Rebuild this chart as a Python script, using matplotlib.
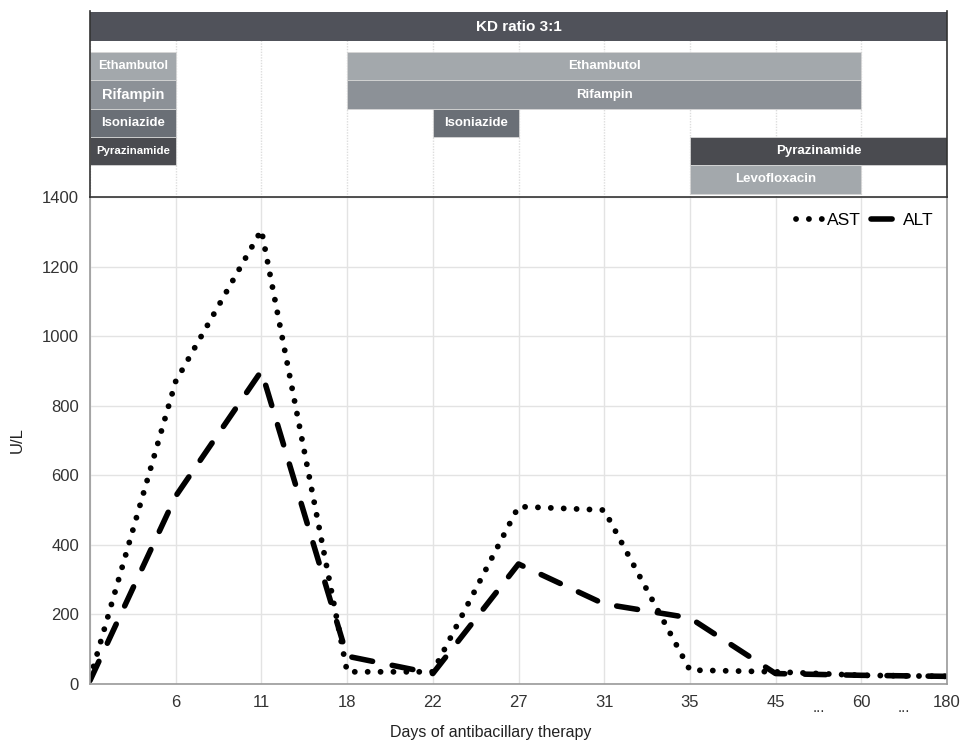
import matplotlib
matplotlib.use('Agg')
import matplotlib.pyplot as plt

plt.rcParams['font.family'] = ['Liberation Sans', 'DejaVu Sans']

# x positions are categorical (days of therapy)
day_labels = ['', '6', '11', '18', '22', '27', '31', '35', '45', '60', '180']
ast = [15, 870, 1305, 35, 35, 510, 500, 40, 35, 25, 22]
alt = [10, 540, 900, 80, 30, 345, 230, 190, 30, 25, 22]

# drug regimen bars: (name, row, start index, end index)
drug_names = ['Ethambutol', 'Rifampin', 'Isoniazide', 'Pyrazinamide', 'Levofloxacin']
drug_colors = ['#a3a8ac', '#8c9197', '#6a6f76', '#4a4b50', '#a3a8ac']
drug_spans = [
    [(0, 1), (3, 9)],
    [(0, 1), (3, 9)],
    [(0, 1), (4, 5)],
    [(0, 1), (7, 10)],
    [(7, 9)],
]
first_bar_sizes = [9.2, 10.5, 9.5, 8.2, 9]

fig = plt.figure(figsize=(9.63, 7.48), dpi=100)
ax = fig.add_axes([90/963, 1 - 684/748, 857/963, 487/748])
ax_top = fig.add_axes([90/963, 1 - 197/748, 857/963, 186/748])

x = list(range(len(day_labels)))

# main plot
ax.plot(x, ast, color='black', lw=4.2, linestyle=(0, (0.01, 2.2)),
        dash_capstyle='round', label='AST')
ax.plot(x, alt, color='black', lw=4.0, linestyle=(0, (3.8, 3.6)),
        dash_capstyle='round', label='ALT')

ax.set_xlim(0, 10)
ax.set_ylim(0, 1400)
ax.set_yticks(range(0, 1401, 200))
ax.set_xticks(x)
ax.set_xticklabels(day_labels)
ax.tick_params(axis='both', length=0, labelsize=12, colors='#333333', pad=8)
ax.grid(True, color='#e3e3e3', lw=1)
ax.set_axisbelow(True)
for s in ['left', 'bottom', 'right']:
    ax.spines[s].set_color('#999999')
    ax.spines[s].set_linewidth(1.2)
ax.spines['top'].set_visible(False)

for xp in [8.5, 9.5]:
    ax.text(xp, -0.035, '...', transform=ax.get_xaxis_transform(),
            ha='center', va='top', fontsize=11, color='#333333')

ax.set_ylabel('U/L', fontsize=12, color='#222222', labelpad=12)
fig.text(491/963, 1 - 733/748, 'Days of antibacillary therapy', ha='center',
         va='center', fontsize=11.5, color='#222222')

ax.legend(loc='upper right', frameon=False, fontsize=12.5, handlelength=1.7,
          handletextpad=0.1, ncol=2, columnspacing=0.6, borderaxespad=0.4,
          bbox_to_anchor=(1.0, 0.995))

# top regimen panel
ax_top.set_xlim(0, 10)
ax_top.set_ylim(6.57, 0)
ax_top.set_xticks(x)
ax_top.set_xticklabels([])
ax_top.set_yticks([])
ax_top.tick_params(length=0)
ax_top.grid(True, axis='x', color='#dddddd', lw=1, linestyle=(0, (1, 1)))
ax_top.set_axisbelow(True)
for s in ['left', 'right', 'bottom']:
    ax_top.spines[s].set_color('#333333')
    ax_top.spines[s].set_linewidth(1.2)
ax_top.spines['top'].set_visible(False)

ax_top.barh(0.55, 10, left=0, height=1.02, color='#50525a', edgecolor='none')
ax_top.text(5, 0.55, 'KD ratio 3:1', ha='center', va='center', color='white',
            fontsize=11, fontweight='bold')

for i, name in enumerate(drug_names):
    yc = 1.95 + i
    for start, end in drug_spans[i]:
        ax_top.barh(yc, end - start, left=start, height=1.0, color=drug_colors[i],
                    edgecolor='#d6d6d6', lw=0.6)
        fs = first_bar_sizes[i] if end - start == 1 else 9.5
        ax_top.text((start + end) / 2, yc, name, ha='center', va='center',
                    color='white', fontsize=fs, fontweight='bold')

fig.savefig('out.png', dpi=100)
